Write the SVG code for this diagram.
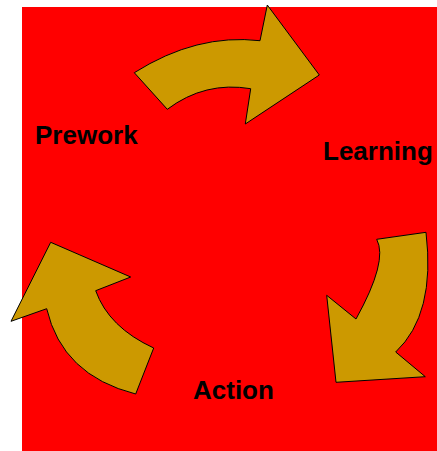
<svg xmlns="http://www.w3.org/2000/svg" width="437" height="451" viewBox="0 0 437 451">
<style>
.arrow{fill:#CC9900;stroke:#000;stroke-width:1;stroke-linejoin:miter}
.lbl{font-family:"Liberation Sans",Arial,sans-serif;font-weight:bold;font-size:26px;fill:#000}
</style>
<rect x="22" y="7" width="415" height="444" fill="#FF0000"/>
<g id="connectors">
<path id="arrow-top" class="arrow" d="M134.3,72.7 Q196.7,33.3 260,40.7 L267.3,5 L319.3,75 L245.3,124 L250.7,88.7 Q205,81 167.3,109.3 Z"/>
<path id="arrow-right" class="arrow" d="M426,232.3 L376.7,239.3 Q388.3,260.8 356,319 L326.7,295.3 L336,382.3 L425.3,376.7 L395.7,352 Q435.8,314.4 426,232.3 Z"/>
<path id="arrow-left" class="arrow" d="M50.7,242.3 L130.7,277 L95.7,290.7 Q108.7,327.3 153.7,348 L135.7,394 Q62.2,375.3 46.7,308.7 L11,321.3 Z"/>
</g>
<g id="prework"><text class="lbl" x="35" y="144">Prework</text></g>
<g id="learning"><text class="lbl" x="323" y="160">Learning</text></g>
<g id="action"><text class="lbl" x="193" y="399">Action</text></g>
</svg>
